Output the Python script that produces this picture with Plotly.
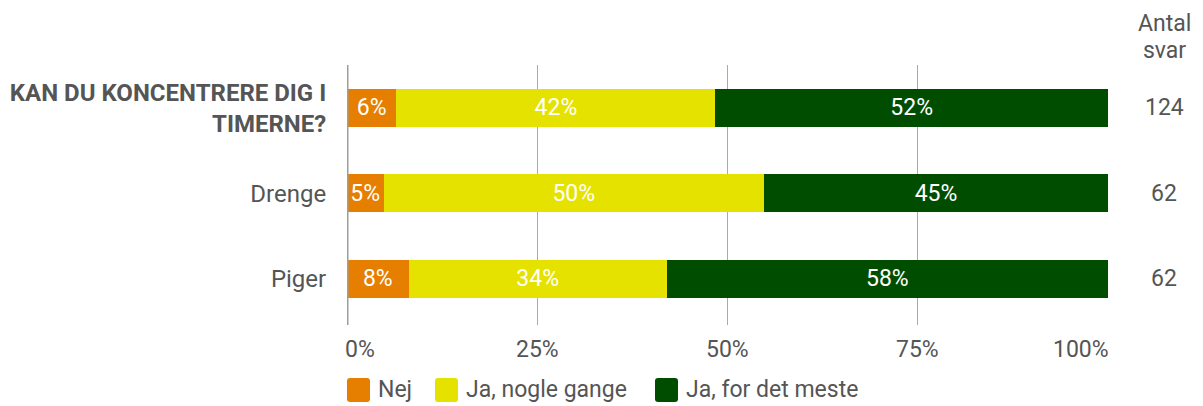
import plotly.graph_objects as go

categories = ["<b>KAN DU KONCENTRERE DIG I<br>TIMERNE?</b>", "Drenge", "Piger"]
series_names = ["Nej", "Ja, nogle gange", "Ja, for det meste"]
nej = [6.5, 4.8, 8.1]
nogle = [41.9, 50.0, 33.9]
meste = [51.6, 45.2, 58.0]
antal = [124, 62, 62]
x_ticks = [0, 25, 50, 75, 100]
x_ticklabels = ["0%", "25%", "50%", "75%", "100%"]
colors = ["#E67E00", "#E6E200", "#004D00"]

FONT = "Roboto"
GRAY = "#555555"
FS = 23

W, H = 1203, 406
ML, MR, MT, MB = 347, 95, 65, 81
PW, PH = W - ML - MR, H - MT - MB


def px_to_paper_x(px):
    return (px - ML) / PW


def px_to_paper_y(py):
    return (H - MB - py) / PH


fig = go.Figure()
for name, vals, col in zip(series_names, [nej, nogle, meste], colors):
    fig.add_trace(go.Bar(
        y=categories, x=vals, name=name, orientation="h",
        marker=dict(color=col, line=dict(width=0)),
        text=[f"{v:.0f}%" for v in vals], textposition="inside",
        insidetextanchor="middle",
        textfont=dict(color="white", size=FS, family=FONT),
        width=0.445, hoverinfo="skip", showlegend=False,
    ))

fig.update_layout(
    barmode="stack",
    width=W, height=H,
    margin=dict(l=ML, r=MR, t=MT, b=MB, autoexpand=False),
    paper_bgcolor="white", plot_bgcolor="white",
    font=dict(family=FONT, size=FS, color=GRAY),
    showlegend=False,
    xaxis=dict(range=[0, 100], tickvals=x_ticks, ticktext=["" for _ in x_ticks],
               showgrid=True, gridcolor="#AAAAAA", gridwidth=1, zeroline=False,
               showline=False, fixedrange=True),
    yaxis=dict(range=[2.54, -0.5], showgrid=False, zeroline=False, showline=False,
               ticks="outside", ticklen=15, tickcolor="rgba(0,0,0,0)",
               tickfont=dict(size=24, color=GRAY, family=FONT), fixedrange=True),
    uniformtext=dict(mode="show", minsize=10),
)

# thick zero line
fig.add_shape(type="line", xref="x", yref="paper", x0=0, x1=0, y0=0, y1=1,
              line=dict(color="#9E9E9E", width=3), layer="above")

# x tick labels
for v, t in zip(x_ticks, x_ticklabels):
    anchor, shift = "center", 0
    if v == 0:
        anchor, shift = "left", -4
    elif v == 100:
        anchor, shift = "right", 3
    fig.add_annotation(x=v, y=0, xref="x", yref="paper", text=t, showarrow=False,
                       xanchor=anchor, yanchor="top", xshift=shift, yshift=-9,
                       font=dict(size=FS, color=GRAY, family=FONT))

# Antal svar column
col_x = px_to_paper_x(1164)
fig.add_annotation(x=col_x, xref="paper", y=px_to_paper_y(24), yref="paper", text="Antal",
                   showarrow=False, xanchor="center", yanchor="middle",
                   font=dict(size=FS, color=GRAY, family=FONT))
fig.add_annotation(x=col_x, xref="paper", y=px_to_paper_y(50), yref="paper", text="svar",
                   showarrow=False, xanchor="center", yanchor="middle",
                   font=dict(size=FS, color=GRAY, family=FONT))
for c, n in zip(categories, antal):
    fig.add_annotation(x=col_x, xref="paper", y=c, yref="y", text=str(n),
                       showarrow=False, xanchor="center", yanchor="middle",
                       font=dict(size=FS, color=GRAY, family=FONT))

# custom legend with large rounded swatches
legend_sq_x = [347, 435, 655]
sq = 23
sq_top, sq_bot = 378, 402
r = 3
for name, col, x0 in zip(series_names, colors, legend_sq_x):
    x1 = x0 + sq
    px0, px1 = px_to_paper_x(x0), px_to_paper_x(x1)
    py0, py1 = px_to_paper_y(sq_bot), px_to_paper_y(sq_top)
    rx, ry = r / PW, r / PH
    path = (f"M {px0+rx},{py0} L {px1-rx},{py0} Q {px1},{py0} {px1},{py0+ry} "
            f"L {px1},{py1-ry} Q {px1},{py1} {px1-rx},{py1} "
            f"L {px0+rx},{py1} Q {px0},{py1} {px0},{py1-ry} "
            f"L {px0},{py0+ry} Q {px0},{py0} {px0+rx},{py0} Z")
    fig.add_shape(type="path", xref="paper", yref="paper", path=path,
                  fillcolor=col, line=dict(width=0))
    fig.add_annotation(x=px_to_paper_x(x1 + 6), xref="paper",
                       y=px_to_paper_y((sq_top + sq_bot) / 2 - 1), yref="paper",
                       text=name, showarrow=False, xanchor="left", yanchor="middle",
                       font=dict(size=FS, color=GRAY, family=FONT))

fig.write_html(
    "out.html",
    config={"displayModeBar": False, "staticPlot": True},
    post_script="document.body.style.margin='0';document.body.style.overflow='hidden';",
)
